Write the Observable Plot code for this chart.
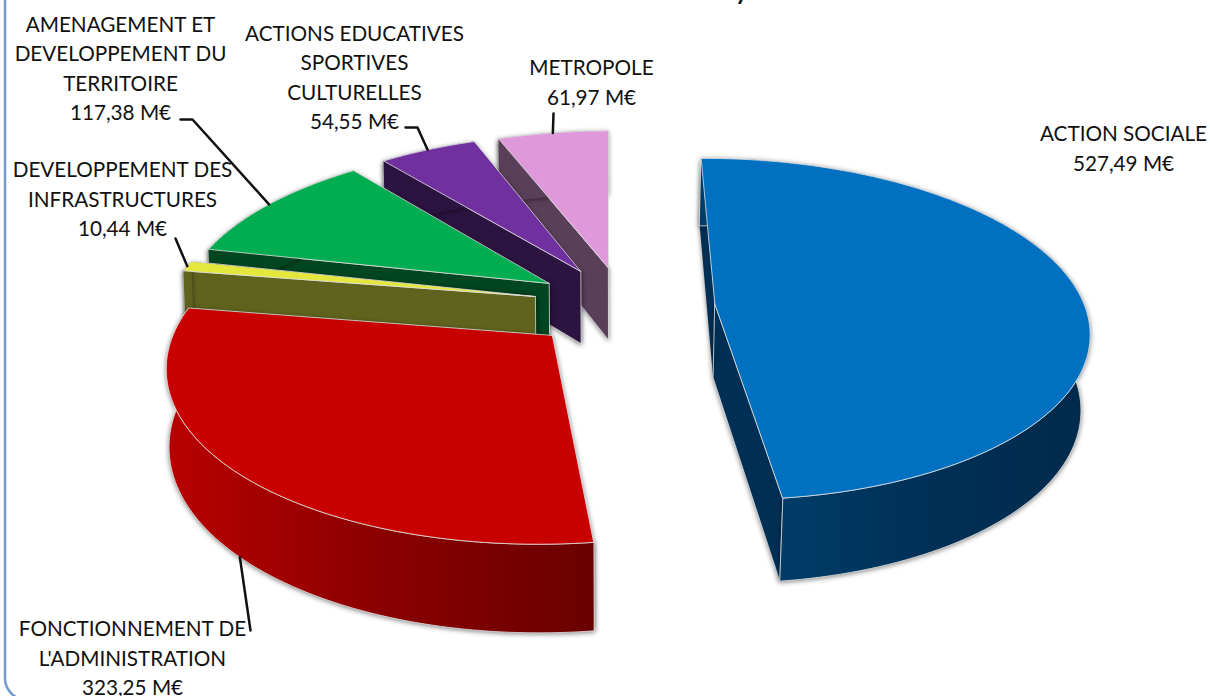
<!DOCTYPE html>
<html><head><meta charset="utf-8">
<script src="https://cdn.jsdelivr.net/npm/d3@7"></script>
<script src="https://cdn.jsdelivr.net/npm/@observablehq/plot@0.6"></script>
<style>html,body{margin:0;padding:0;background:#fff;overflow:hidden}svg{display:block}</style>
</head><body><div id="chart"></div>
<script>
// Data, clockwise from the top of the pie
const categories = ["ACTION SOCIALE","FONCTIONNEMENT DE\nL'ADMINISTRATION","DEVELOPPEMENT DES\nINFRASTRUCTURES","AMENAGEMENT ET\nDEVELOPPEMENT DU\nTERRITOIRE","ACTIONS EDUCATIVES\nSPORTIVES\nCULTURELLES","METROPOLE"];
const values = [527.49,323.25,10.44,117.38,54.55,61.97];
const valueLabels = ["527,49 M€","323,25 M€","10,44 M€","117,38 M€","54,55 M€","61,97 M€"];
const topColors = ["#0070c0","#c80000","#e4e83c","#00ad50","#7030a0","#df98da"];
const faceColors = ["#002f55","#8a0000","#5f631e","#004620","#2c1440","#5a3f58"];
const explode = [0.232,0.297,0.26,0.236,0.22,0.23];
const nudgeX = [-0.003,0.008,-0.005,-0.025,-0.03,-0.02];
const nudgeY = [0.035,0,0.025,0.02,0.01,0.022];
const drawOrder = [5,4,3,2,1,0];

// Label placement (centre of each text block) and leader hooks
const labelX = [1123,132,122,120,354,591];
const labelY = [146,656,197,66,75,80];
const leaderStart = [null,[250,630],[175,238],[180,119],[405,127],[553,113]];
const leaderKnee = [null,null,null,[192,119],[417,127],null];

// Perspective model of the tilted pie
const cx=630, cy=300, A=368, B=166, H=74, k=0.148, startDeg=-0.5;
const kz=X=>X>0?0.02:0.006;
const pie = d3.pie().sort(null).startAngle(startDeg*Math.PI/180).endAngle((360+startDeg)*Math.PI/180)(values);
function project(X,Y,Z){const w=(1+kz(X)*Z)/(1-k*Y);return {x:cx+A*X*w,y:cy+B*Y*w-H*Z/(1-k*Y)};}
function geom(i){
  const s=pie[i],mid=(s.startAngle+s.endAngle)/2,ex=explode[i]*Math.sin(mid)+nudgeX[i],ey=-explode[i]*Math.cos(mid)+nudgeY[i];
  const rim=(a,z)=>project(ex+Math.sin(a),ey-Math.cos(a),z);
  const n=Math.max(4,Math.ceil((s.endAngle-s.startAngle)*40));
  const angs=d3.range(n+1).map(j=>s.startAngle+(s.endAngle-s.startAngle)*j/n);
  return {s,mid,rim,angs,apex:z=>project(ex,ey,z)};
}
const edge="rgba(225,225,225,.8)";
const wallFill=["url(#wall0)","url(#wall1)",null,null,null,null];
const shadow="drop-shadow(0px 1px 2.5px rgba(0,0,0,.5))";
const face=(pts,fill,extra={})=>Plot.line(pts,{x:"x",y:"y",fill,stroke:edge,strokeWidth:1,curve:"linear-closed",...extra});

const sliceMarks=[];
for(const i of drawOrder){
  const g=geom(i),a0=g.s.startAngle,a1=g.s.endAngle;
  const sideA=[g.apex(0),g.rim(a0,0),g.rim(a0,-1),g.apex(-1)];
  const sideB=[g.apex(0),g.rim(a1,0),g.rim(a1,-1),g.apex(-1)];
  const outer=[...g.angs.map(a=>g.rim(a,0)),...g.angs.slice().reverse().map(a=>g.rim(a,-1))];
  const top=[g.apex(0),...g.angs.map(a=>g.rim(a,0))];
  const nearLast=-Math.cos(a0)>-Math.cos(a1)?[sideB,sideA]:[sideA,sideB];
  sliceMarks.push(
    face(nearLast[0],faceColors[i],{imageFilter:shadow,stroke:"none"}),
    face(nearLast[1],faceColors[i],{imageFilter:shadow}),
    face(outer,wallFill[i]||faceColors[i],{imageFilter:shadow,stroke:i<2?edge:"none"}),
    face(top,topColors[i])
  );
}
// leaders end on the slice rim at its mid angle
const leaders=[];
categories.forEach((c,i)=>{
  if(!leaderStart[i])return;
  const g=geom(i);
  const end=g.rim(g.mid,i===1?-1:0);
  const pts=[leaderStart[i],leaderKnee[i],[end.x,end.y]].filter(Boolean).map(([x,y])=>({x,y}));
  leaders.push(Plot.line(pts,{x:"x",y:"y",stroke:"#111",strokeWidth:2.5,curve:"linear"}));
});
const labels=categories.map((c,i)=>({text:c+"\n"+valueLabels[i],x:labelX[i],y:labelY[i]}));
const defs=()=>{
  const d=d3.create("svg:defs");
  const grad=(id,x1,x2,stops)=>{
    const g=d.append("linearGradient").attr("id",id).attr("gradientUnits","userSpaceOnUse").attr("x1",x1).attr("x2",x2).attr("y1",0).attr("y2",0);
    stops.forEach(([o,c])=>g.append("stop").attr("offset",o).attr("stop-color",c));
  };
  grad("wall0",775,1085,[[0,"#003c68"],[.5,"#003056"],[1,"#002a4c"]]);
  grad("wall1",170,592,[[0,"#b80000"],[.5,"#8a0000"],[1,"#6a0000"]]);
  return d.node();
};
const chart=Plot.plot({
  width:1210,height:696,margin:0,
  x:{domain:[0,1210],range:[0,1210],axis:null},
  y:{domain:[0,696],range:[0,696],axis:null},
  style:{background:"#fff"},
  marks:[
    defs,
    Plot.rect([{}],{x1:()=>5,x2:()=>1400,y1:()=>-60,y2:()=>700,r:22,fill:"none",stroke:"#6f9bd0",strokeWidth:2.5}),
    Plot.text(["y"],{x:()=>741,y:()=>-8,text:d=>d,fontFamily:"Lato",fontSize:24,fontWeight:700,fill:"#111"}),
    ...sliceMarks,
    ...leaders,
    Plot.text(labels,{x:"x",y:"y",text:"text",fontFamily:"Lato",fontSize:20.7,lineHeight:1.425,lineAnchor:"middle",textAnchor:"middle",fill:"#111"})
  ]
});
document.getElementById("chart").append(chart);
</script></body></html>
